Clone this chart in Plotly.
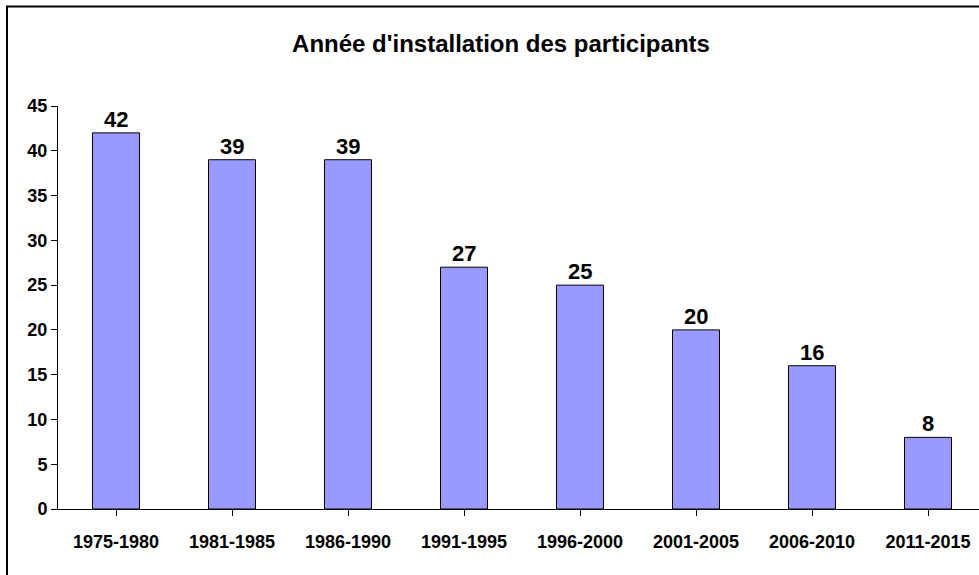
import plotly.graph_objects as go

categories = ["1975-1980", "1981-1985", "1986-1990", "1991-1995",
              "1996-2000", "2001-2005", "2006-2010", "2011-2015"]
values = [42, 39, 39, 27, 25, 20, 16, 8]
y_ticks = [0, 5, 10, 15, 20, 25, 30, 35, 40, 45]
title_text = "Année d'installation des participants"

W, H = 979, 575
FONT = "Liberation Sans, Arial, sans-serif"
xs = list(range(len(categories)))

fig = go.Figure()
fig.add_trace(go.Bar(
    x=xs,
    y=values,
    width=0.405,
    marker=dict(color="#9999FF", line=dict(color="black", width=1)),
    cliponaxis=False,
))

annotations = [dict(x=x, y=v, xref="x", yref="y", text=str(v), showarrow=False,
                    yanchor="bottom", yshift=-1,
                    font=dict(family=FONT, size=22, color="black", weight="bold"))
               for x, v in zip(xs, values)]

fig.update_layout(
    width=W, height=H, autosize=False,
    margin=dict(l=0, r=0, t=0, b=0, autoexpand=False),
    paper_bgcolor="white", plot_bgcolor="white",
    showlegend=False,
    title=dict(text=title_text, x=501 / W, xanchor="center",
               y=1 - 44 / H, yanchor="middle", automargin=False,
               font=dict(family=FONT, size=24, color="black", weight="bold")),
    xaxis=dict(
        domain=[58 / W, 1.0],
        range=[-0.5, -0.5 + (W - 58) / 116],
        tickmode="array",
        tickvals=xs,
        ticktext=categories,
        tickson="boundaries",
        ticks="outside", ticklen=6, tickcolor="black", tickwidth=1,
        ticklabelstandoff=10,
        showline=True, linecolor="black", linewidth=1,
        showgrid=False, zeroline=False, automargin=False,
        tickfont=dict(family=FONT, size=18, color="black", weight="bold"),
    ),
    yaxis=dict(
        domain=[(H - 509) / H, (H - 106) / H],
        range=[0, 45],
        tickmode="array",
        tickvals=y_ticks,
        ticks="outside", ticklen=6, tickcolor="black", tickwidth=1,
        showline=True, linecolor="black", linewidth=1,
        showgrid=False, zeroline=False, automargin=False,
        tickfont=dict(family=FONT, size=18, color="black", weight="bold"),
    ),
    annotations=annotations,
    shapes=[dict(type="rect", xref="paper", yref="paper",
                 x0=7 / W, x1=1.02, y0=-0.02, y1=1 - 6.5 / H,
                 line=dict(color="black", width=2), fillcolor="rgba(0,0,0,0)",
                 layer="below")],
)

fig.write_html("out.html",
               config={"displayModeBar": False},
               post_script="document.body.style.margin='0';"
                           "document.body.style.overflow='hidden';")
